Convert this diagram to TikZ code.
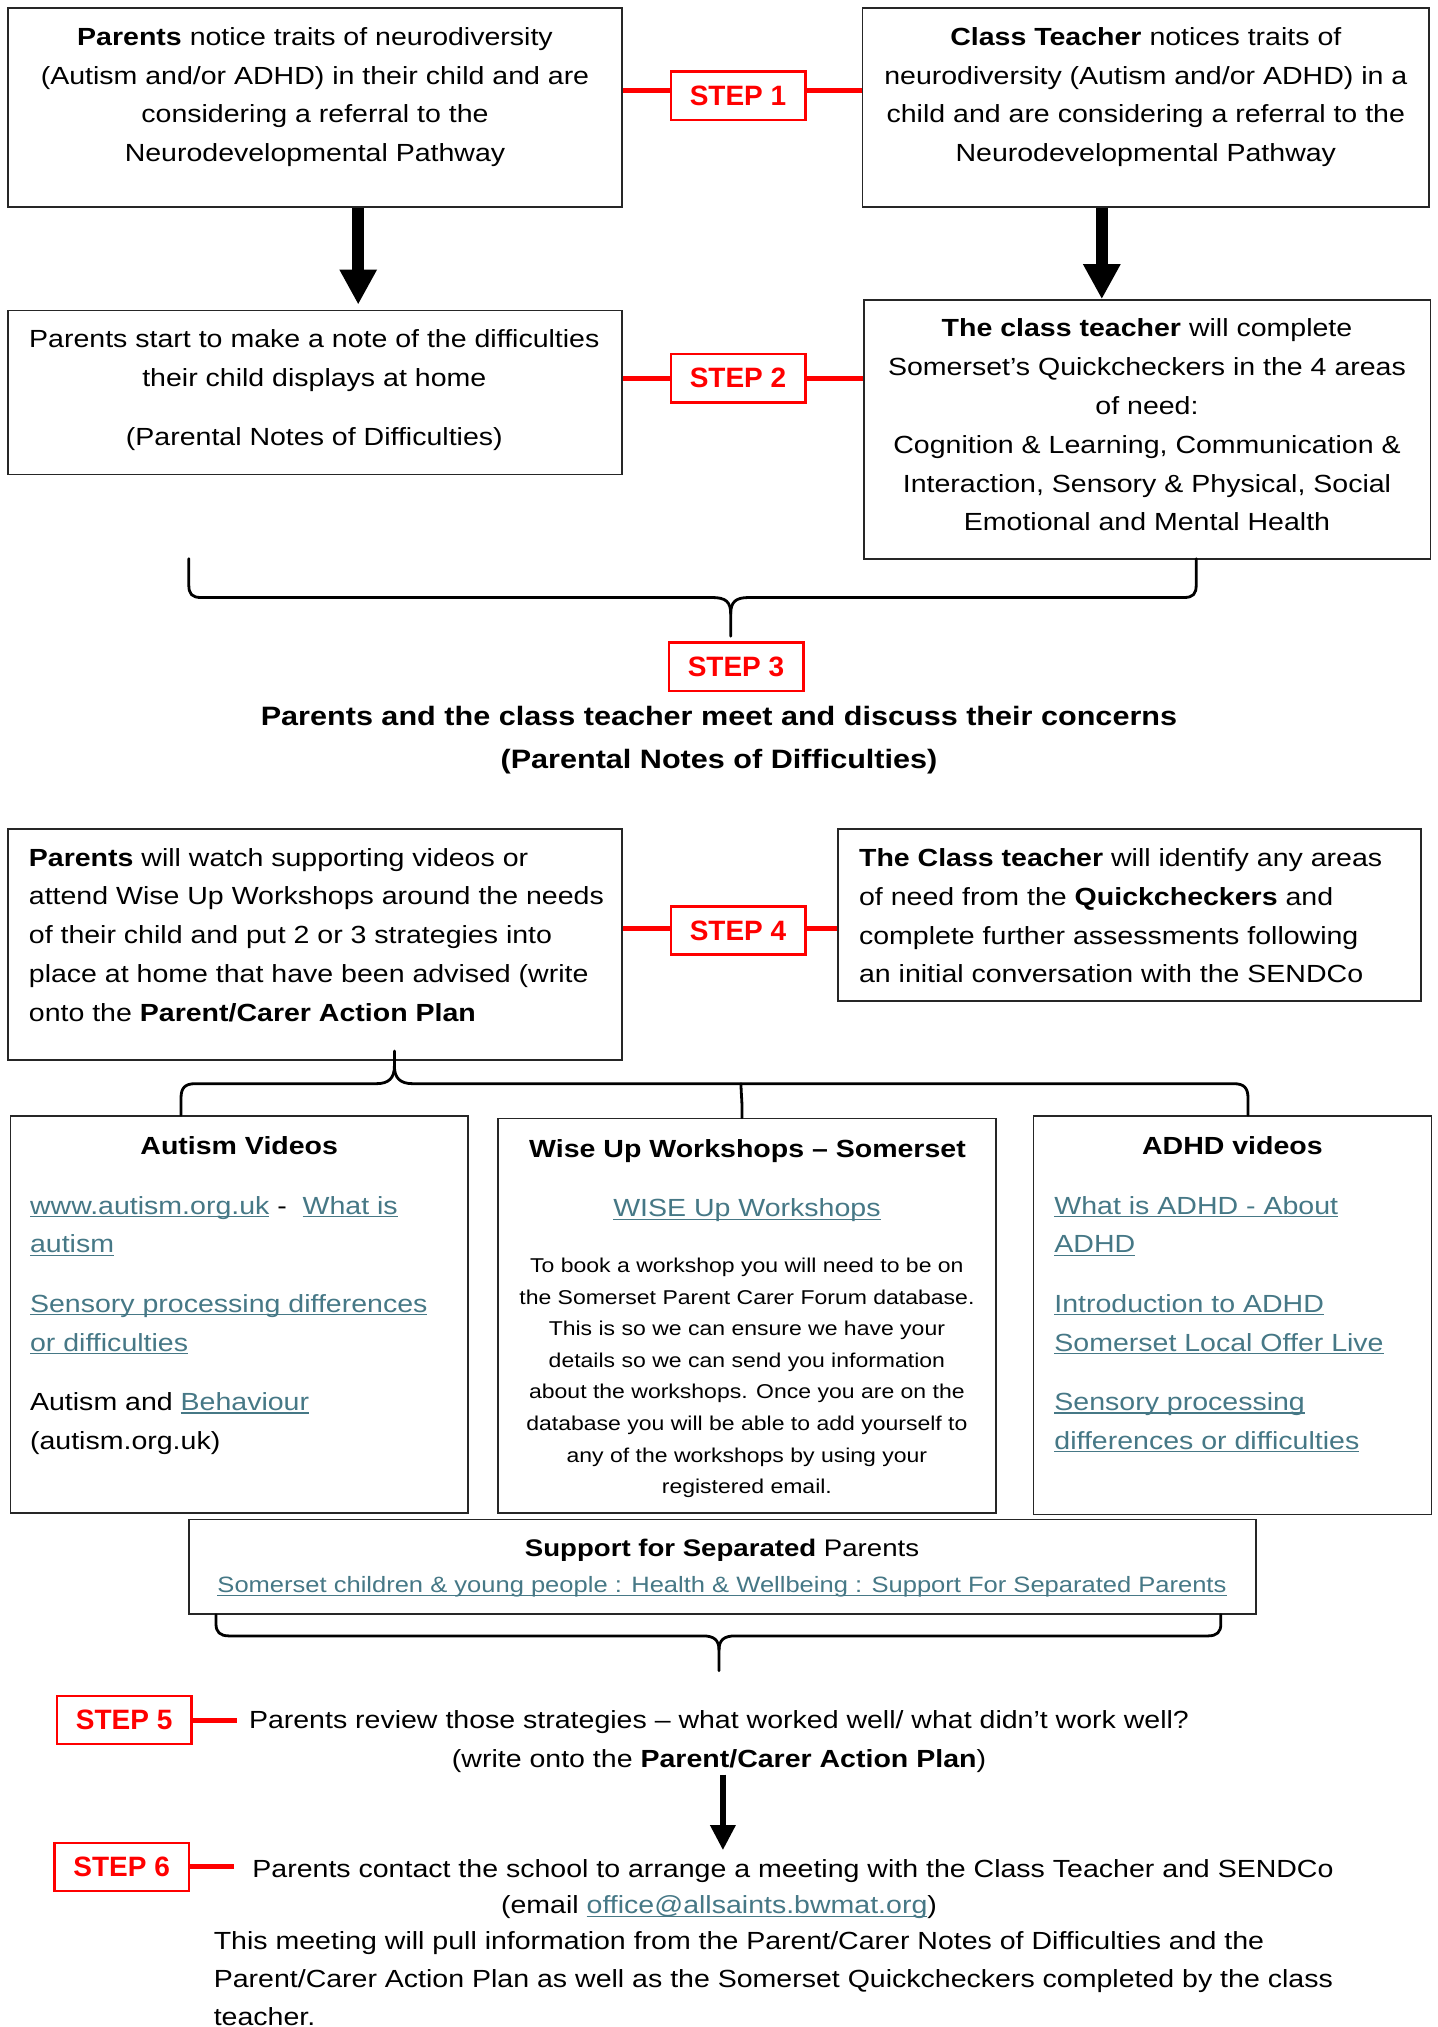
\documentclass[tikz,border=0pt]{standalone}
\usepackage{fontspec}
\setmainfont{Liberation Sans}[FakeStretch=1.15]
\newfontfamily\stepfamily{Liberation Sans}
\usetikzlibrary{arrows.meta,fit,calc}
\definecolor{linkc}{HTML}{467886}
\definecolor{stepred}{HTML}{FF0000}
\newsavebox\lnkbox
\newcommand\lnk[1]{\textcolor{linkc}{\sbox\lnkbox{#1}\rlap{\rule[-1.6pt]{\wd\lnkbox}{0.6pt}}\usebox\lnkbox}}
\newcommand\bodyfont{\fontsize{12.4}{19.4}\selectfont}
\newcommand\titlefont{\fontsize{13.3}{21.3}\selectfont\bfseries}
\newcommand\smallbody{\fontsize{10}{15.8}\selectfont}
\begin{document}
\begin{tikzpicture}[x=0.5pt,y=-0.5pt,
  box/.style={draw=black!85, line width=0.8pt, inner sep=0pt, fill=white},
  stepbox/.style={draw=stepred, line width=1.2pt, inner sep=0pt, minimum width=67.3pt, minimum height=24.1pt, text=stepred, font=\stepfamily\bfseries\fontsize{14}{16}\selectfont},
  txt/.style={inner sep=0pt, font=\bodyfont, execute at begin node=\strut, execute at end node=\strut},
  redline/.style={draw=stepred, line width=2.5pt},
  bigarrow/.style={line width=6pt, -{Triangle[length=17.5pt,width=17.5pt]}},
  midarrow/.style={line width=3pt, -{Triangle[length=12.5pt,width=12pt]}},
  brace/.style={line width=1.4pt, line join=round, line cap=round}
]
\useasboundingbox (0,0) rectangle (1438,2027);
\fill[white] (0,0) rectangle (1438,2027);
\clip (0,0) rectangle (1438,2027);

% ---------- boxes ----------
\node[box, fit={(7.8,7.8) (622,207)}] (bA) {};
\node[box, fit={(862.6,7.8) (1429,207)}] (bB) {};
\node[box, fit={(7.8,310.4) (622,474.6)}] (bC) {};
\node[box, fit={(863.9,300) (1430.3,558.7)}] (bD) {};
\node[box, fit={(7.8,829) (622,1060)}] (bE) {};
\node[box, fit={(838,829) (1421.2,1001)}] (bF) {};
\node[box, fit={(10.3,1116) (468.1,1513)}] (bG) {};
\node[box, fit={(497.9,1118.6) (995.8,1513)}] (bH) {};
\node[box, fit={(1033.3,1116) (1431.6,1514.3)}] (bI) {};
\node[box, fit={(188.8,1519.5) (1255.7,1613.9)}] (bJ) {};

% ---------- step boxes ----------
\node[stepbox] (s1) at (738,95.8) {STEP 1};
\node[stepbox] (s2) at (738,378.3) {STEP 2};
\node[stepbox] (s3) at (736,666.6) {STEP 3};
\node[stepbox] (s4) at (738,930.5) {STEP 4};
\node[stepbox] (s5) at (124.2,1720) {STEP 5};
\node[stepbox] (s6) at (121.6,1866.8) {STEP 6};

% ---------- texts ----------
\node[txt, align=center] (tA) at (315,100.3) {\textbf{Parents} notice traits of neurodiversity\\(Autism and/or ADHD) in their child and are\\considering a referral to the\\Neurodevelopmental Pathway};
\node[txt, align=center] (tB) at (1145.8,100.3) {\textbf{Class Teacher} notices traits of\\neurodiversity (Autism and/or ADHD) in a\\child and are considering a referral to the\\Neurodevelopmental Pathway};
\node[txt, align=center] (tC) at (314.3,393.5) {Parents start to make a note of the difficulties\\their child displays at home\\[10.3pt](Parental Notes of Difficulties)};
\node[txt, align=center] (tD) at (1147,430.8) {\textbf{The class teacher} will complete\\Somerset’s Quickcheckers in the 4 areas\\of need:\\Cognition \& Learning, Communication \&\\Interaction, Sensory \& Physical, Social\\Emotional and Mental Health};
\node[txt, align=center, font=\titlefont] (t3) at (719,744) {Parents and the class teacher meet and discuss their concerns\\(Parental Notes of Difficulties)};
\node[txt, align=left, anchor=west] (tE) at (28.5,940.5) {\textbf{Parents} will watch supporting videos or\\attend Wise Up Workshops around the needs\\of their child and put 2 or 3 strategies into\\place at home that have been advised (write\\onto the \textbf{Parent/Carer Action Plan}};
\node[txt, align=left, anchor=west] (tF) at (858.7,921.6) {\textbf{The Class teacher} will identify any areas\\of need from the \textbf{Quickcheckers} and\\complete further assessments following\\an initial conversation with the SENDCo};

\node[txt] (gT) at (239.2,1147) {\textbf{Autism Videos}};
\node[txt, align=left, anchor=west] (gL) at (29.7,1328.5) {\lnk{www.autism.org.uk} -\ \ \lnk{What is}\\\lnk{autism}\\[10.3pt]\lnk{Sensory processing differences}\\\lnk{or difficulties}\\[10.3pt]Autism and \lnk{Behaviour}\\(autism.org.uk)};

\node[txt] (hT) at (747.5,1149.4) {\textbf{Wise Up Workshops – Somerset}};
\node[txt] (hL) at (746.9,1209) {\lnk{WISE Up Workshops}};
\node[txt, align=center, font=\smallbody] (hS) at (746.9,1380.5) {To book a workshop you will need to be on\\the Somerset Parent Carer Forum database.\\This is so we can ensure we have your\\details so we can send you information\\about the workshops. Once you are on the\\database you will be able to add yourself to\\any of the workshops by using your\\registered email.};

\node[txt] (iT) at (1232.4,1147) {\textbf{ADHD videos}};
\node[txt, align=left, anchor=west] (iL) at (1054,1328.5) {\lnk{What is ADHD - About}\\\lnk{ADHD}\\[10.3pt]\lnk{Introduction to ADHD}\\\lnk{Somerset Local Offer Live}\\[10.3pt]\lnk{Sensory processing}\\\lnk{differences or difficulties}};

\node[txt, font=\fontsize{12}{18}\selectfont] (jT) at (722,1549) {\textbf{Support for Separated} Parents};
\node[txt, font=\fontsize{11.1}{16}\selectfont] (jL) at (722,1586.5) {\lnk{Somerset children \& young people : Health \& Wellbeing : Support For Separated Parents}};

\node[txt, align=center] (t5) at (719,1745) {Parents review those strategies – what worked well/ what didn’t work well?\\(write onto the \textbf{Parent/Carer Action Plan})};
\node[txt] (t6a) at (793,1870) {Parents contact the school to arrange a meeting with the Class Teacher and SENDCo};
\node[txt] (t6b) at (719,1906) {(email \lnk{office@allsaints.bwmat.org})};
\node[txt, align=left, anchor=west, font=\fontsize{12.4}{19}\selectfont] (t6c) at (213.4,1984.5) {This meeting will pull information from the Parent/Carer Notes of Difficulties and the\\Parent/Carer Action Plan as well as the Somerset Quickcheckers completed by the class\\teacher.};

% ---------- red step connectors ----------
\draw[redline] ([yshift=2.5pt]s1.west) -- ([yshift=2.5pt]s1.west -| bA.east);
\draw[redline] ([yshift=2.5pt]s1.east) -- ([yshift=2.5pt]s1.east -| bB.west);
\draw[redline] (s2.west) -- (s2.west -| bC.east);
\draw[redline] (s2.east) -- (s2.east -| bD.west);
\draw[redline] ([yshift=1pt]s4.west) -- ([yshift=1pt]s4.west -| bE.east);
\draw[redline] ([yshift=1pt]s4.east) -- ([yshift=1pt]s4.east -| bF.west);
\coordinate (e5) at (236.7,1720);
\coordinate (e6) at (234,1866);
\draw[redline] (s5.east) -- (e5);
\draw[redline] (s6.east |- e6) -- (e6);

% ---------- black arrows ----------
\coordinate (xA) at (358.2,0);
\coordinate (xB) at (1101.8,0);
\coordinate (x5) at (722.9,0);
\draw[bigarrow] (xA |- bA.south) -- ([yshift=2.5pt]xA |- bC.north);
\draw[bigarrow] (xB |- bB.south) -- (xB |- bD.north);
\draw[midarrow, shorten <=-2.5pt] (x5 |- t5.south) -- (x5 |- t6a.north);

% ---------- brace 1 (to STEP 3) ----------
\coordinate (b1l) at (188.8,558.7);
\coordinate (b1r) at (1196.2,558.7);
\coordinate (b1t) at (730.7,636.3);
\draw[brace] (b1l) -- (188.8,585) .. controls (188.8,594) and (192,597.5) .. (201,597.5) -- (712,597.5) .. controls (726,597.5) and (730.7,602) .. (730.7,614) -- (b1t);
\draw[brace] (b1r) -- (1196.2,585) .. controls (1196.2,594) and (1193,597.5) .. (1184,597.5) -- (749,597.5) .. controls (735.4,597.5) and (730.7,602) .. (730.7,614);

% ---------- brace 2 (from box E to the three boxes) ----------
\coordinate (b2t) at (394.4,1051);
\coordinate (b2l) at (181,0);
\coordinate (b2r) at (1248,0);
\coordinate (b2m) at (741,1083.7);
\coordinate (b2x) at (742,0);
\draw[brace] (b2t) -- (394.4,1066) .. controls (394.4,1078) and (389,1083.7) .. (376,1083.7) -- (195,1083.7) .. controls (185,1083.7) and (181,1088) .. (181,1098) -- (b2l |- bG.north);
\draw[brace] (394.4,1066) .. controls (394.4,1078) and (400,1083.7) .. (413,1083.7) -- (1234,1083.7) .. controls (1244,1083.7) and (1248,1088) .. (1248,1098) -- (b2r |- bI.north);
\draw[brace] (b2m) .. controls (741,1092) and (742,1100) .. (742,1108) -- (b2x |- bH.north);

% ---------- brace 3 (to STEP 5 text) ----------
\coordinate (b3l) at (216,0);
\coordinate (b3r) at (1220.8,0);
\coordinate (b3t) at (719,1670.8);
\draw[brace] (b3l |- bJ.south) -- (216,1624) .. controls (216,1632) and (220,1635.9) .. (229,1635.9) -- (703,1635.9) .. controls (714,1635.9) and (719,1640) .. (719,1650) -- (b3t);
\draw[brace] (b3r |- bJ.south) -- (1220.8,1624) .. controls (1220.8,1632) and (1217,1635.9) .. (1208,1635.9) -- (735,1635.9) .. controls (724,1635.9) and (719,1640) .. (719,1650);
\end{tikzpicture}
\end{document}
